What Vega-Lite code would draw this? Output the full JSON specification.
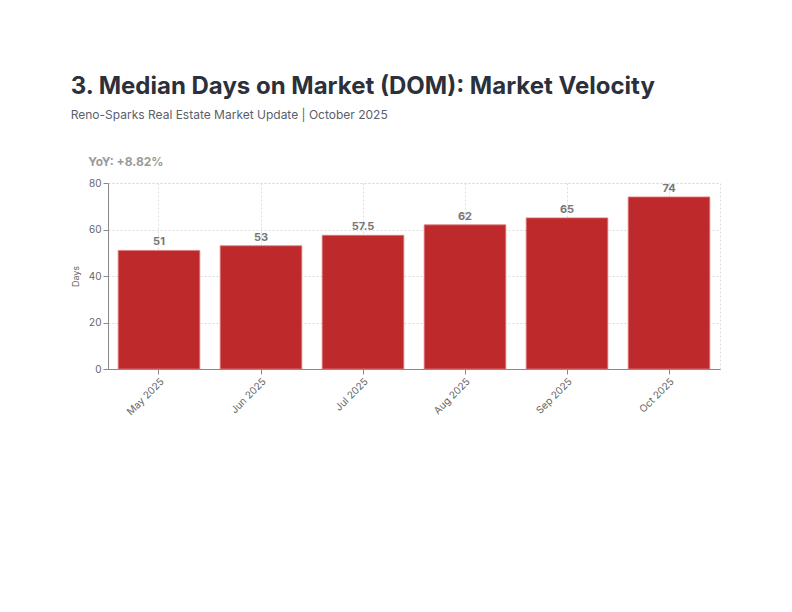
{
  "$schema": "https://vega.github.io/schema/vega-lite/v6.json",
  "background": "white",
  "padding": {"left": 70, "top": 74, "right": 20, "bottom": 10},
  "config": {
    "font": "Inter",
    "view": {"stroke": "#dddddd", "strokeDash": [2, 2]}
  },
  "title": {
    "text": "3. Median Days on Market (DOM): Market Velocity",
    "subtitle": "Reno-Sparks Real Estate Market Update | October 2025",
    "anchor": "start",
    "frame": "bounds",
    "font": "Inter",
    "fontSize": 24,
    "fontWeight": "bold",
    "color": "#2b303b",
    "subtitleFont": "Inter",
    "subtitleFontSize": 12,
    "subtitleColor": "#5a5f6b",
    "subtitlePadding": 11,
    "offset": 35,
    "dx": 0
  },
  "vconcat": [
    {
      "title": {
        "text": "YoY: +8.82%",
        "anchor": "start",
        "frame": "bounds",
        "font": "Inter",
        "fontSize": 12,
        "fontWeight": "bold",
        "color": "#9a9a9a",
        "offset": 9,
        "dx": 17
      },
      "width": 612,
      "height": 186,
      "data": {
        "values": [
          {"month": "May 2025", "days": 51},
          {"month": "Jun 2025", "days": 53},
          {"month": "Jul 2025", "days": 57.5},
          {"month": "Aug 2025", "days": 62},
          {"month": "Sep 2025", "days": 65},
          {"month": "Oct 2025", "days": 74}
        ]
      },
      "encoding": {
        "x": {
          "field": "month",
          "type": "nominal",
          "sort": null,
          "scale": {"paddingInner": 0.2, "paddingOuter": 0.1},
          "axis": {
            "title": null,
            "labelAngle": -45,
            "labelAlign": "right",
            "labelBaseline": "top",
            "labelFontSize": 10,
            "labelColor": "#666666",
            "labelFont": "Inter",
            "domainColor": "#888888",
            "tickColor": "#888888",
            "tickSize": 5,
            "grid": true,
            "gridColor": "#dddddd",
            "gridDash": [2, 2]
          }
        },
        "y": {
          "field": "days",
          "type": "quantitative",
          "scale": {"domain": [0, 80]},
          "axis": {
            "title": "Days",
            "titleFontSize": 9,
            "titleFontWeight": "normal",
            "titleColor": "#666666",
            "titleFont": "Inter",
            "titlePadding": 8,
            "values": [0, 20, 40, 60, 80],
            "labelFontSize": 10,
            "labelColor": "#666666",
            "labelFont": "Inter",
            "domainColor": "#888888",
            "tickColor": "#888888",
            "tickSize": 5,
            "gridColor": "#dddddd",
            "gridDash": [2, 2]
          }
        }
      },
      "layer": [
        {
          "mark": {"type": "bar", "color": "#be2a2b", "stroke": "#e07a7a", "strokeWidth": 0.8}
        },
        {
          "mark": {"type": "text", "dy": -3, "baseline": "bottom", "fontSize": 11, "fontWeight": "bold", "color": "#777777", "font": "Inter"},
          "encoding": {"text": {"field": "days", "type": "quantitative"}}
        }
      ]
    }
  ]
}
